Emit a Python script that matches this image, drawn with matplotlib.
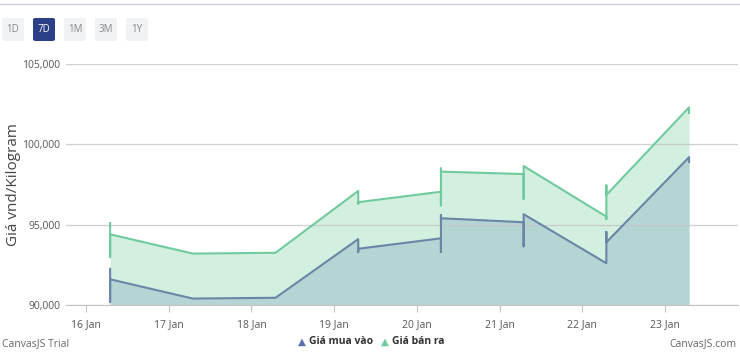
import datetime
import matplotlib
matplotlib.use('Agg')
import matplotlib.pyplot as plt
import matplotlib.dates as mdates
from matplotlib.patches import FancyBboxPatch

# one entry per day, several prices recorded at (almost) the same time
days = ['2024-01-16', '2024-01-17', '2024-01-18', '2024-01-19',
        '2024-01-20', '2024-01-21', '2024-01-22', '2024-01-23']
buy_prices = [[92250, 90200, 91600], [90400], [90450], [94100, 93300, 93500],
              [94150, 93300, 95600, 95400], [95150, 93650, 95650],
              [92600, 94550, 93900], [99200, 98900]]
sell_prices = [[95100, 93000, 94400], [93200], [93250], [97100, 96300, 96400],
               [97050, 96200, 98500, 98300], [98150, 96600, 98650],
               [95500, 95350, 97450, 96850], [102300, 101950]]
tick_days = days
legend_labels = ['Giá mua vào', 'Giá bán ra']
buttons = ['1D', '7D', '1M', '3M', '1Y']

plt.rcParams['font.family'] = ['Open Sans', 'DejaVu Sans']


def flatten(prices):
    xs, ys = [], []
    for d, vals in zip(days, prices):
        t = datetime.datetime.strptime(d, '%Y-%m-%d') + datetime.timedelta(hours=7)
        for v in vals:
            xs.append(t)
            ys.append(v)
    return xs, ys


bx, by = flatten(buy_prices)
sx, sy = flatten(sell_prices)

green = '#6fcb9d'
green_fill = '#d3efe0'
blue = '#6a86a6'
blue_fill = '#b5d4d4'

fig = plt.figure(figsize=(7.4, 3.54), dpi=100)
ax = fig.add_axes([66 / 740, 49 / 354, 672 / 740, 241 / 354])

ax.fill_between(sx, sy, 90000, color=green_fill, lw=0, zorder=1)
ax.fill_between(bx, by, 90000, color=blue_fill, lw=0, zorder=2)
ax.plot(sx, sy, color=green, lw=1.5, zorder=4)
ax.plot(bx, by, color=blue, lw=1.5, zorder=4)

ax.set_ylim(90000, 105000)
ax.set_yticks([90000, 95000, 100000, 105000])
ax.yaxis.set_major_formatter(matplotlib.ticker.FuncFormatter(lambda v, p: f'{int(v):,}'))
x0 = datetime.datetime(2024, 1, 16) - datetime.timedelta(hours=5.8)
x1 = datetime.datetime(2024, 1, 23) + datetime.timedelta(hours=21.2)
ax.set_xlim(x0, x1)
ax.set_xticks([datetime.datetime.strptime(d, '%Y-%m-%d') for d in tick_days])
ax.xaxis.set_major_formatter(mdates.DateFormatter('%-d %b'))

ax.grid(axis='y', color='#c4c4c4', lw=0.9, alpha=0.8, zorder=3)
ax.set_axisbelow(False)
for s in ['top', 'right', 'left']:
    ax.spines[s].set_visible(False)
ax.spines['bottom'].set_color('#c4c4c4')
ax.spines['bottom'].set_zorder(5)
ax.tick_params(axis='y', length=0, labelsize=7.5, labelcolor='#555555', pad=4)
ax.tick_params(axis='x', length=5, color='#c4c4c4', labelsize=7.5, labelcolor='#555555', pad=5)
fig.text(14 / 740, 1 - 185 / 354, 'Giá vnd/Kilogram', rotation=90, fontsize=11,
         color='#444444', ha='center', va='center')

# top divider and range buttons
fig.add_artist(plt.Line2D([0, 1], [1 - 4 / 354, 1 - 4 / 354], color='#cfcfdd', lw=1))
for i, b in enumerate(buttons):
    left = 2 + i * 31
    sel = b == '7D'
    box = FancyBboxPatch((left / 740, 1 - 41 / 354), 22 / 740, 23 / 354,
                         boxstyle='round,pad=0,rounding_size=0.004',
                         transform=fig.transFigure,
                         fc='#2b3f86' if sel else '#f1f2f4', ec='none')
    fig.add_artist(box)
    fig.text((left + 11) / 740, 1 - 29.5 / 354, b, ha='center', va='center',
             fontsize=7, color='white' if sel else '#888888')

# legend
fig.text(302 / 740, 1 - 342 / 354, '▲', color='#5b6fae', fontsize=7.5, ha='center', va='center')
fig.text(309 / 740, 1 - 342 / 354, legend_labels[0], color='#333333', fontsize=7.5,
         fontweight='bold', ha='left', va='center')
fig.text(385 / 740, 1 - 342 / 354, '▲', color='#6fcb9d', fontsize=7.5, ha='center', va='center')
fig.text(392 / 740, 1 - 342 / 354, legend_labels[1], color='#333333', fontsize=7.5,
         fontweight='bold', ha='left', va='center')

fig.text(2 / 740, 1 - 344 / 354, 'CanvasJS Trial', color='#666666', fontsize=7.5, va='center')
fig.text(736 / 740, 1 - 344 / 354, 'CanvasJS.com', color='#666666', fontsize=7.5,
         va='center', ha='right')

fig.savefig('out.png', dpi=100)
